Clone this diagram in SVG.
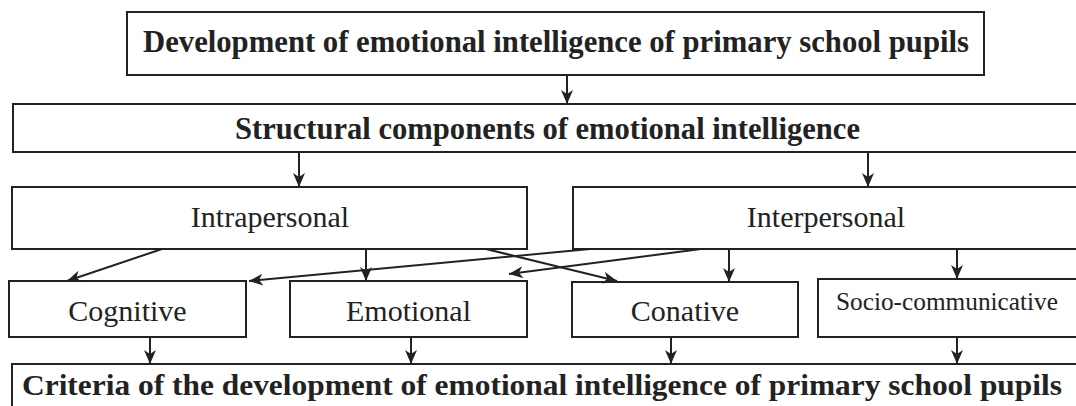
<svg xmlns="http://www.w3.org/2000/svg" width="1076" height="406" viewBox="0 0 1076 406">
<style>
.box{fill:none;stroke:#222;stroke-width:2}
.b{font-family:"Liberation Serif","Times New Roman",serif;font-weight:bold;fill:#222;text-anchor:middle}
.r{font-family:"Liberation Serif","Times New Roman",serif;fill:#222;text-anchor:middle}
.c{fill:none;stroke:#222;stroke-width:2;marker-end:url(#ah)}
</style>
<defs>
<marker id="ah" markerUnits="userSpaceOnUse" markerWidth="16" markerHeight="14" refX="14" refY="6" orient="auto">
<path d="M0,0 L14,6 L0,12 L4,6 z" fill="#222"/>
</marker>
</defs>
<rect width="1076" height="406" fill="#fff"/>
<g id="title">
<rect class="box" x="127" y="12" width="857" height="63"/>
<text class="b" x="556" y="52" font-size="31" textLength="826" lengthAdjust="spacingAndGlyphs">Development of emotional intelligence of primary school pupils</text>
</g>
<g id="structural">
<rect class="box" x="13" y="104" width="1070" height="48"/>
<text class="b" x="547.5" y="139" font-size="32" textLength="625" lengthAdjust="spacingAndGlyphs">Structural components of emotional intelligence</text>
</g>
<g id="intrapersonal">
<rect class="box" x="12" y="187" width="515" height="62"/>
<text class="r" x="270" y="227" font-size="30">Intrapersonal</text>
</g>
<g id="interpersonal">
<rect class="box" x="573" y="187" width="510" height="62"/>
<text class="r" x="826" y="227" font-size="30">Interpersonal</text>
</g>
<g id="cognitive">
<rect class="box" x="9" y="281" width="237" height="56"/>
<text class="r" x="127.5" y="321" font-size="30">Cognitive</text>
</g>
<g id="emotional">
<rect class="box" x="290" y="281" width="237" height="56"/>
<text class="r" x="408.5" y="321" font-size="30">Emotional</text>
</g>
<g id="conative">
<rect class="box" x="572" y="282" width="226" height="55"/>
<text class="r" x="685" y="321" font-size="30">Conative</text>
</g>
<g id="socio">
<rect class="box" x="818" y="279" width="265" height="58"/>
<text class="r" x="947" y="310" font-size="25" textLength="222" lengthAdjust="spacingAndGlyphs">Socio-communicative</text>
</g>
<g id="criteria">
<rect class="box" x="12" y="364" width="1071" height="50"/>
<text class="b" x="542" y="395" font-size="30" textLength="1040" lengthAdjust="spacingAndGlyphs">Criteria of the development of emotional intelligence of primary school pupils</text>
</g>
<g id="connectors">
<line class="c" x1="567" y1="75" x2="567" y2="104"/>
<line class="c" x1="299" y1="152" x2="299" y2="187"/>
<line class="c" x1="868" y1="152" x2="868" y2="187"/>
<line class="c" x1="162" y1="249" x2="67" y2="281"/>
<line class="c" x1="366" y1="249" x2="366" y2="281"/>
<line class="c" x1="486" y1="249" x2="617" y2="281"/>
<line class="c" x1="590" y1="249" x2="249" y2="281"/>
<line class="c" x1="701" y1="249" x2="509" y2="274"/>
<line class="c" x1="729" y1="249" x2="729" y2="282"/>
<line class="c" x1="957" y1="249" x2="957" y2="279"/>
<line class="c" x1="150" y1="337" x2="150" y2="364"/>
<line class="c" x1="411" y1="337" x2="411" y2="364"/>
<line class="c" x1="671" y1="337" x2="671" y2="364"/>
<line class="c" x1="957" y1="337" x2="957" y2="364"/>
</g>
</svg>
